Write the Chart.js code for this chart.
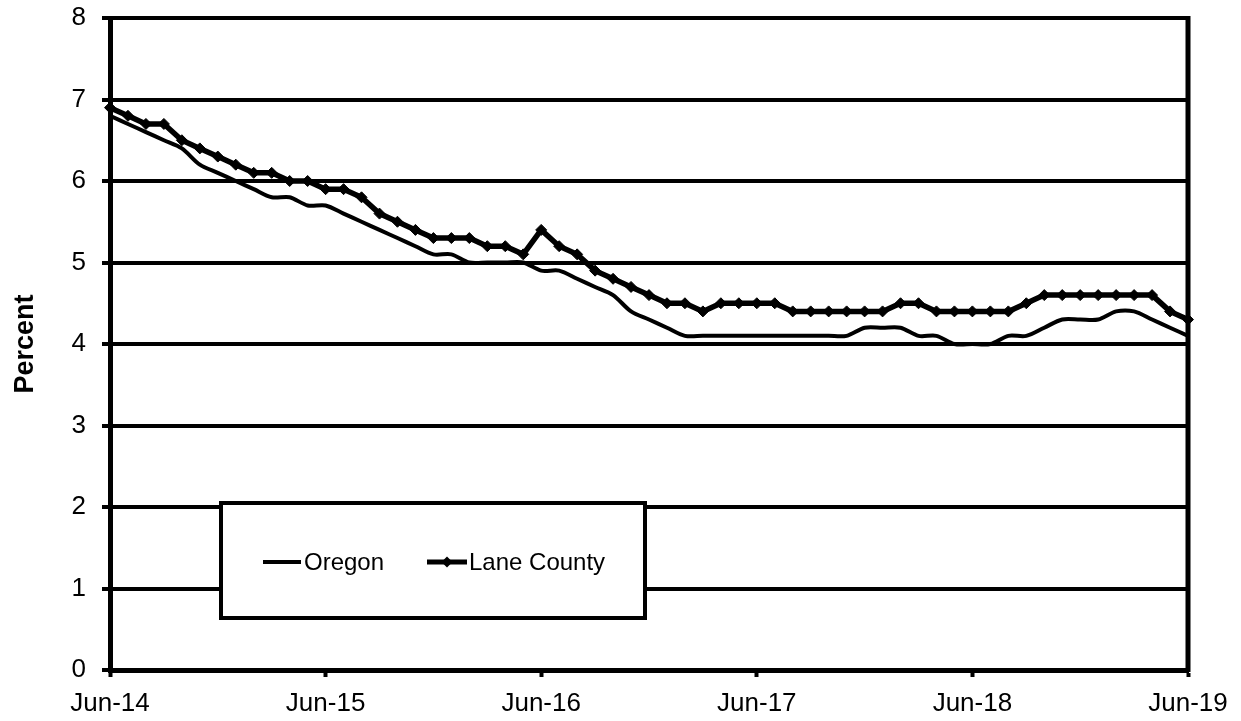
<!DOCTYPE html>
<html>
<head>
<meta charset="utf-8">
<script src="https://cdn.jsdelivr.net/npm/chart.js@4/dist/chart.umd.min.js"></script>
<style>
  html, body { margin: 0; padding: 0; background: #fff; }
  #wrap { width: 1241px; height: 721px; }
</style>
</head>
<body>
<div id="wrap"><canvas id="c" width="1241" height="721"></canvas></div>
<script>
const months = ("Jun-14 Jul-14 Aug-14 Sep-14 Oct-14 Nov-14 Dec-14 Jan-15 Feb-15 Mar-15 Apr-15 May-15 " +
  "Jun-15 Jul-15 Aug-15 Sep-15 Oct-15 Nov-15 Dec-15 Jan-16 Feb-16 Mar-16 Apr-16 May-16 " +
  "Jun-16 Jul-16 Aug-16 Sep-16 Oct-16 Nov-16 Dec-16 Jan-17 Feb-17 Mar-17 Apr-17 May-17 " +
  "Jun-17 Jul-17 Aug-17 Sep-17 Oct-17 Nov-17 Dec-17 Jan-18 Feb-18 Mar-18 Apr-18 May-18 " +
  "Jun-18 Jul-18 Aug-18 Sep-18 Oct-18 Nov-18 Dec-18 Jan-19 Feb-19 Mar-19 Apr-19 May-19 " +
  "Jun-19").split(" ");

const tickLabels = ["Jun-14", "Jun-15", "Jun-16", "Jun-17", "Jun-18", "Jun-19"];

const oregon = [
  6.8, 6.7, 6.6, 6.5, 6.4, 6.2, 6.1, 6.0, 5.9, 5.8, 5.8, 5.7,
  5.7, 5.6, 5.5, 5.4, 5.3, 5.2, 5.1, 5.1, 5.0, 5.0, 5.0, 5.0,
  4.9, 4.9, 4.8, 4.7, 4.6, 4.4, 4.3, 4.2, 4.1, 4.1, 4.1, 4.1,
  4.1, 4.1, 4.1, 4.1, 4.1, 4.1, 4.2, 4.2, 4.2, 4.1, 4.1, 4.0,
  4.0, 4.0, 4.1, 4.1, 4.2, 4.3, 4.3, 4.3, 4.4, 4.4, 4.3, 4.2,
  4.1
];

const laneCounty = [
  6.9, 6.8, 6.7, 6.7, 6.5, 6.4, 6.3, 6.2, 6.1, 6.1, 6.0, 6.0,
  5.9, 5.9, 5.8, 5.6, 5.5, 5.4, 5.3, 5.3, 5.3, 5.2, 5.2, 5.1,
  5.4, 5.2, 5.1, 4.9, 4.8, 4.7, 4.6, 4.5, 4.5, 4.4, 4.5, 4.5,
  4.5, 4.5, 4.4, 4.4, 4.4, 4.4, 4.4, 4.4, 4.5, 4.5, 4.4, 4.4,
  4.4, 4.4, 4.4, 4.5, 4.6, 4.6, 4.6, 4.6, 4.6, 4.6, 4.6, 4.4,
  4.3
];

const seriesNames = ["Oregon", "Lane County"];
const FONT = "'Liberation Sans', Arial, sans-serif";

const frameAndLegend = {
  id: 'frameAndLegend',
  beforeDatasetsDraw(chart) {
    const { ctx, chartArea } = chart;
    ctx.save();
    ctx.strokeStyle = '#000';
    ctx.lineWidth = 5;
    ctx.beginPath();
    ctx.moveTo(chartArea.right, chartArea.top - 2);
    ctx.lineTo(chartArea.right, chartArea.bottom + 2);
    ctx.stroke();
    ctx.restore();
  },
  afterDatasetsDraw(chart) {
    const { ctx } = chart;
    const bx = 221, by = 503, bw = 424, bh = 115;
    ctx.save();
    ctx.fillStyle = '#fff';
    ctx.fillRect(bx, by, bw, bh);
    ctx.strokeStyle = '#000';
    ctx.lineWidth = 4;
    ctx.strokeRect(bx, by, bw, bh);
    const cy = 562;
    // Oregon
    ctx.lineWidth = 4;
    ctx.beginPath();
    ctx.moveTo(263, cy); ctx.lineTo(301, cy); ctx.stroke();
    ctx.fillStyle = '#000';
    ctx.font = '24px ' + FONT;
    ctx.textBaseline = 'middle';
    ctx.textAlign = 'left';
    ctx.fillText(seriesNames[0], 304, cy + 1);
    // Lane County
    ctx.lineWidth = 5;
    ctx.beginPath();
    ctx.moveTo(427, cy); ctx.lineTo(467, cy); ctx.stroke();
    ctx.beginPath();
    const mx = 447, r = 5.5;
    ctx.moveTo(mx, cy - r); ctx.lineTo(mx + r, cy); ctx.lineTo(mx, cy + r); ctx.lineTo(mx - r, cy);
    ctx.closePath(); ctx.fill();
    ctx.fillText(seriesNames[1], 469, cy + 1);
    ctx.restore();
  }
};

new Chart(document.getElementById('c'), {
  type: 'line',
  data: {
    labels: months,
    datasets: [
      {
        label: seriesNames[0],
        data: oregon,
        borderColor: '#000',
        borderWidth: 4,
        pointRadius: 0,
        tension: 0.3,
        fill: false
      },
      {
        label: seriesNames[1],
        data: laneCounty,
        borderColor: '#000',
        backgroundColor: '#000',
        borderWidth: 5.5,
        pointStyle: 'rectRot',
        pointRadius: 5.5,
        pointBackgroundColor: '#000',
        pointBorderColor: '#000',
        pointBorderWidth: 1,
        tension: 0,
        fill: false
      }
    ]
  },
  options: {
    responsive: false,
    animation: false,
    devicePixelRatio: 1,
    layout: { padding: { top: 18, right: 53, left: 0, bottom: 0 } },
    plugins: { legend: { display: false }, tooltip: { enabled: false } },
    scales: {
      x: {
        type: 'category',
        offset: false,
        afterFit(s) { s.height = 51; s.paddingLeft = 0; s.paddingRight = 0; },
        grid: {
          drawOnChartArea: false,
          drawTicks: true,
          tickLength: 7,
          tickWidth: 4,
          tickColor: (c) => (c.index % 12 === 0 ? '#000' : 'rgba(0,0,0,0)')
        },
        border: { display: true, color: '#000', width: 5 },
        ticks: {
          autoSkip: false,
          maxRotation: 0,
          minRotation: 0,
          padding: 11,
          color: '#000',
          font: { family: FONT, size: 26 },
          callback: (v, i) => (i % 12 === 0 ? tickLabels[i / 12] : '')
        }
      },
      y: {
        min: 0,
        max: 8,
        afterFit(s) { s.width = 110; s.paddingTop = 0; s.paddingBottom = 0; },
        ticks: {
          stepSize: 1,
          padding: 16,
          color: '#000',
          font: { family: FONT, size: 26 }
        },
        grid: {
          color: '#000',
          lineWidth: 4,
          drawTicks: true,
          tickLength: 8,
          tickColor: '#000'
        },
        border: { display: true, color: '#000', width: 5 },
        title: {
          display: true,
          text: 'Percent',
          color: '#000',
          font: { family: FONT, size: 27, weight: 'bold' },
          padding: { top: 9, bottom: 0 }
        }
      }
    }
  },
  plugins: [frameAndLegend]
});
</script>
</body>
</html>
